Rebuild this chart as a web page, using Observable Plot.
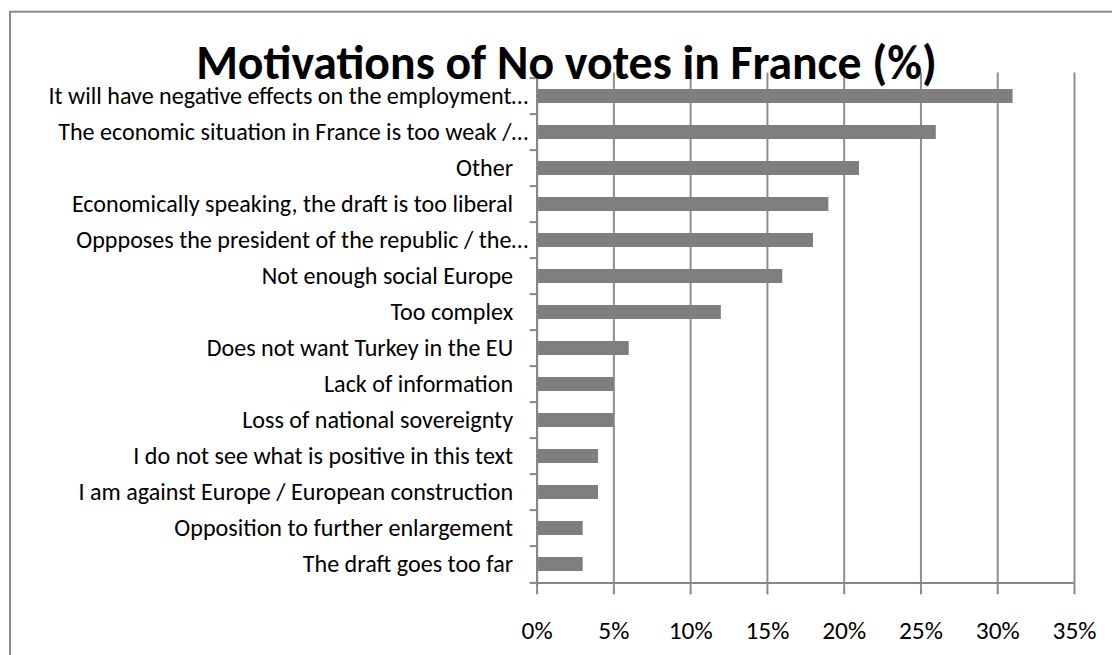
<!DOCTYPE html>
<html>
<head>
<meta charset="utf-8">
<script src="https://cdn.jsdelivr.net/npm/d3@7"></script>
<script src="https://cdn.jsdelivr.net/npm/@observablehq/plot@0.6"></script>
<style>
  html, body { margin: 0; padding: 0; background: #fff; }
  #chart { width: 1112px; height: 655px; overflow: hidden; position: relative; }
</style>
</head>
<body>
<div id="chart"></div>
<script>
// ---- data ----
const title = "Motivations of No votes in France (%)";
const categories = [
  "It will have negative effects on the employment…",
  "The economic situation in France is too weak /…",
  "Other",
  "Economically speaking, the draft is too liberal",
  "Oppposes the president of the republic / the…",
  "Not enough social Europe",
  "Too complex",
  "Does not want Turkey in the EU",
  "Lack of information",
  "Loss of national sovereignty",
  "I do not see what is positive in this text",
  "I am against Europe / European construction",
  "Opposition to further enlargement",
  "The draft goes too far"
];
const values = [31, 26, 21, 19, 18, 16, 12, 6, 5, 5, 4, 4, 3, 3];
const xTicks = [0, 5, 10, 15, 20, 25, 30, 35];

const data = categories.map((c, i) => ({category: c, value: values[i]}));

// ---- styling ----
const FONT = "Carlito, Lato, 'Open Sans', sans-serif";
function fitSize(text, weight, target) {
  const ctx = document.createElement("canvas").getContext("2d");
  ctx.font = `${weight} 100px ${FONT}`;
  return 100 * target / ctx.measureText(text).width;
}
const labelSize = fitSize(categories[0], "normal", 480);
const tickSize = fitSize("30%", "normal", 44);
const titleSize = fitSize(title, "bold", 741);

const W = 1112, H = 655;
const mt = 72.5, mb = 67.7, ml = 536.6, mr = 38;
const step = (H - mt - mb) / categories.length;
const GRID = "#8e8e8e", AXIS = "#868686", BAR = "#7f7f7f";

const ellip = categories.filter(c => c.endsWith("…"));
const plain = categories.filter(c => !c.endsWith("…"));

const chart = Plot.plot({
  width: W, height: H,
  marginTop: mt, marginBottom: mb, marginLeft: ml, marginRight: mr,
  style: {fontFamily: FONT, fontSize: labelSize + "px", color: "#000", background: "#fff"},
  x: {domain: [0, 35], label: null},
  y: {domain: categories, paddingInner: 0.61, paddingOuter: 0.305, label: null},
  marks: [
    Plot.gridX(xTicks, {stroke: GRID, strokeOpacity: 1, strokeWidth: 2}),
    Plot.barX(data, {x: "value", y: "category", fill: BAR}),
    Plot.ruleX([0], {stroke: AXIS, strokeWidth: 2}),
    Plot.ruleY([categories[categories.length - 1]], {x1: 0, x2: 35, dy: step / 2, stroke: AXIS, strokeWidth: 2}),
    // category labels (Excel lets the truncated ones run closer to the axis)
    Plot.axisY(plain, {tickSize: 0, tickPadding: 24, fill: "#000", fontSize: labelSize}),
    Plot.axisY(ellip, {tickSize: 0, tickPadding: 9, fill: "#000", fontSize: labelSize}),
    // tick marks at category boundaries
    Plot.axisY(categories, {tickSize: 7, tickFormat: () => "", dy: -step / 2, stroke: AXIS, strokeWidth: 2}),
    Plot.axisY([categories[categories.length - 1]], {tickSize: 7, tickFormat: () => "", dy: step / 2, stroke: AXIS, strokeWidth: 2}),
    Plot.axisX(xTicks, {tickSize: 7, tickPadding: 26, tickFormat: d => d + "%", stroke: AXIS, strokeWidth: 2, fill: "#000", fontSize: tickSize, label: null})
  ]
});

const svg = d3.select(chart);
// outer chart-area border
svg.insert("rect", ":first-child")
  .attr("x", 10).attr("y", 11.7).attr("width", 1200).attr("height", 1000)
  .attr("fill", "none").attr("stroke", "#8c8c8c").attr("stroke-width", 2);
// title, drawn over the plot like in the original
svg.append("text")
  .attr("x", 566.5).attr("y", 79)
  .attr("text-anchor", "middle")
  .attr("font-family", FONT).attr("font-weight", "bold")
  .attr("font-size", titleSize)
  .attr("fill", "#000")
  .text(title);

document.getElementById("chart").appendChild(chart);
</script>
</body>
</html>
